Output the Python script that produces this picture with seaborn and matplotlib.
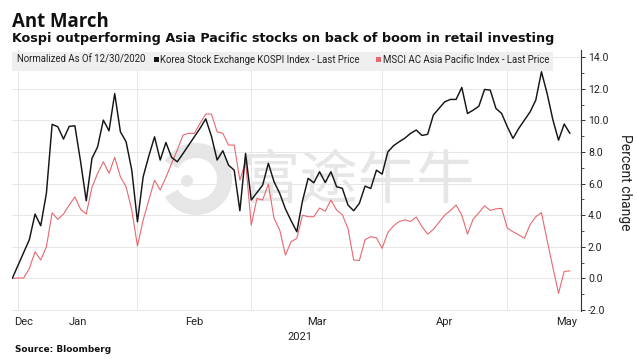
import matplotlib
matplotlib.use("Agg")
import numpy as np
import pandas as pd
import seaborn as sns
import matplotlib.pyplot as plt
from matplotlib.patches import Rectangle, Wedge, Circle

# ---------------- data (percent change vs 12/30/2020) ----------------
start_date = "2020-12-30"
end_date = "2021-05-17"

kospi = [
    0.0, None, None, 2.45, 4.07, 3.33, 5.40, 9.75, 9.60, 8.82,
    9.62, 9.66, 7.40, 4.91, 7.59, 8.33, 10.02, 9.34, 11.70, 9.28,
    8.65, 6.85, 3.58, 6.43, 7.75, 8.96, 7.49, 8.60, 7.66, 7.38,
    7.90, None, None, 9.50, 10.10, 9.00, 7.49, 8.08, 7.17, 6.85,
    4.28, 7.91, 4.96, None, 5.90, 7.28, 6.12, 5.38, 4.40, 3.65,
    2.95, 4.90, 6.33, 6.05, 6.75, 6.07, 6.75, 5.80, 5.70, 4.64,
    4.28, 4.75, 5.84, 5.69, 6.85, 6.60, 8.00, 8.40, 8.65, 8.88,
    9.18, 9.39, 9.05, 9.12, 10.34, 10.76, 11.18, 11.33, 11.33, 12.09,
    10.44, 10.65, 10.90, 11.96, 11.92, 10.76, 10.44, 9.60, 8.86, 9.49,
    None, 10.54, 11.28, 13.08, 11.70, 10.05, 8.75, 9.77, 9.18,
]

msci = [
    0.0, 0.02, 0.02, 0.63, 1.68, 1.16, 2.00, 4.15, 3.73, 4.07,
    4.64, 5.16, 4.37, 4.07, 5.76, 6.65, 7.38, 6.65, 7.66, 6.43,
    5.80, 4.32, 2.04, 3.69, 4.95, 6.22, 5.59, 6.39, 7.28, 8.12,
    9.07, 9.18, 9.18, 9.81, 10.40, 10.40, 9.28, 9.18, 8.44, 8.44,
    6.22, 7.38, 3.37, 5.06, 4.96, 5.97, 3.80, 3.06, 1.47, 2.32,
    2.53, 4.00, 3.90, 3.90, 4.45, 4.25, 4.96, 4.32, 4.03, 3.15,
    1.16, 1.13, 2.45, 2.64, 2.56, 1.90, 2.90, 3.32, 3.60, 3.70,
    3.60, 3.88, 3.27, 2.80, 3.10, 3.55, 4.00, 4.30, 4.64, 4.00,
    2.80, 3.75, 4.15, 4.59, 4.30, 4.40, 4.43, 3.18, 2.95, 2.75,
    2.53, 3.40, 3.90, 4.16, 2.40, 0.70, -0.95, 0.44, 0.47,
]

series_names = ["MSCI AC Asia Pacific Index - Last Price",
                "Korea Stock Exchange KOSPI Index - Last Price"]
month_labels = ["Dec", "Jan", "Feb", "Mar", "Apr", "May"]
year_label = "2021"
y_ticks = [-2, 0, 2, 4, 6, 8, 10, 12, 14]

# ---------------- figure ----------------
W, H = 637, 359
sns.set_theme(style="white")
plt.rcParams["font.family"] = ["Roboto", "DejaVu Sans"]

fig = plt.figure(figsize=(W / 100, H / 100), dpi=100)
fig.patch.set_facecolor("white")


def fx(px):
    return px / W


def fy(py):
    return 1 - py / H


ax_l, ax_r, ax_t, ax_b = 12, 581, 50, 311
ax = fig.add_axes([fx(ax_l), fy(ax_b), (ax_r - ax_l) / W, (ax_b - ax_t) / H])
ax.set_facecolor("white")

dates = pd.bdate_range(start_date, end_date)
df = pd.DataFrame({"date": dates, "pos": np.arange(len(dates)),
                   series_names[1]: kospi, series_names[0]: msci})
long = df.melt(id_vars=["date", "pos"], value_vars=series_names,
               var_name="series", value_name="pct").dropna()
long["pct"] = long["pct"].astype(float)

black = "#151515"
red = "#e8686f"
sns.lineplot(data=long, x="pos", y="pct", hue="series", hue_order=series_names,
             palette={series_names[0]: red, series_names[1]: black},
             size="series", size_order=series_names,
             sizes={series_names[0]: 0.8, series_names[1]: 1.05},
             estimator=None, legend=False, ax=ax, zorder=4)

ax.set_xlim(-0.05, 99.95)
ax.set_ylim(-2.07, 14.46)
ax.set_xlabel("")
ax.set_ylabel("")

# month boundaries (last weekday of each month) -> vertical gridlines
month_end = df.groupby(df["date"].dt.to_period("M"))["pos"].max().values[:-1]
ax.set_xticks(month_end, minor=True)
# month label positions: middle of each month span
label_pos = [2.0]
for a, b in zip(month_end[:-1], month_end[1:]):
    label_pos.append((a + b) / 2)
label_pos.append(97.4)
ax.set_xticks(label_pos)
ax.set_xticklabels(month_labels)
ax.tick_params(axis="x", which="both", length=0, pad=4.5, labelsize=8,
               labelcolor="#222222")

ax.yaxis.tick_right()
ax.set_yticks(y_ticks)
ax.set_yticklabels([f"{v:.1f}" for v in y_ticks])
ax.set_yticks(np.arange(-1, 14, 2), minor=True)
ax.tick_params(axis="y", which="major", length=3.2, width=0.7, color="#333333",
               pad=1.8, labelsize=7.6, labelcolor="#222222", direction="out")
ax.tick_params(axis="y", which="minor", length=2, width=0.6, color="#333333",
               direction="out")

ax.grid(False)
ax.xaxis.grid(True, which="minor", color="#e6e6e6", linewidth=0.7)
ax.yaxis.grid(True, which="major", color="#e6e6e6", linewidth=0.7)
ax.set_axisbelow(True)
for s in ["top", "left", "bottom"]:
    ax.spines[s].set_visible(False)
ax.spines["right"].set_color("#333333")
ax.spines["right"].set_linewidth(0.8)

# ---------------- watermark ----------------
wm = "#e6e6e6"
ax.text(fx(358), fy(181), "富途牛牛", transform=fig.transFigure,
        ha="center", va="center", fontsize=42, color=wm,
        family=["Noto Sans CJK SC", "DejaVu Sans"], zorder=1.5)
pix = fig.dpi_scale_trans
ax.add_patch(Wedge((196 / 100, (H - 179) / 100), 0.36, -150, 150, width=0.15,
                   transform=pix, facecolor=wm, edgecolor="none", zorder=1.5))
ax.add_patch(Circle((187 / 100, (H - 181) / 100), 0.06, transform=pix,
                    facecolor=wm, edgecolor="none", zorder=1.5))

# ---------------- legend band ----------------
ax.add_patch(Rectangle((fx(12), fy(70.7)), fx(553) - fx(12), fy(51.7) - fy(70.7),
                       transform=fig.transFigure, facecolor="#efefef",
                       edgecolor="none", zorder=5, clip_on=False))
leg_kw = dict(fontsize=6.9, color="#222222", va="baseline", ha="left")
fig.text(fx(17.3), fy(62.6), "Normalized As Of 12/30/2020", **leg_kw)
fig.patches.append(Rectangle((fx(154), fy(62.2)), fx(5.4), fy(56.8) - fy(62.2),
                             transform=fig.transFigure, facecolor=black,
                             edgecolor="none"))
fig.text(fx(160.5), fy(62.6), series_names[1], **leg_kw)
fig.patches.append(Rectangle((fx(375.5), fy(62.2)), fx(5.4), fy(56.8) - fy(62.2),
                             transform=fig.transFigure, facecolor=red,
                             edgecolor="none"))
fig.text(fx(383), fy(62.6), series_names[0], **leg_kw)

# ---------------- titles and notes ----------------
fig.text(fx(12.5), fy(26.7), "Ant March", fontsize=13.4, fontweight="bold",
         family=["Open Sans", "DejaVu Sans"], color="#111111", va="baseline")
fig.text(fx(12.5), fy(41.7),
         "Kospi outperforming Asia Pacific stocks on back of boom in retail investing",
         fontsize=9.2, fontweight="bold", family=["DejaVu Sans"],
         color="#111111", va="baseline")
fig.text(fx(299.5), fy(340), year_label, fontsize=8, color="#222222",
         ha="center", va="baseline")
fig.text(fx(15), fy(351.7), "Source: Bloomberg", fontsize=6.4, fontweight="bold",
         family=["DejaVu Sans"], color="#111111", va="baseline")
fig.text(fx(625), fy(182), "Percent change", fontsize=10, rotation=270,
         color="#222222", ha="center", va="center")

fig.savefig("out.png", dpi=100, facecolor="white")
